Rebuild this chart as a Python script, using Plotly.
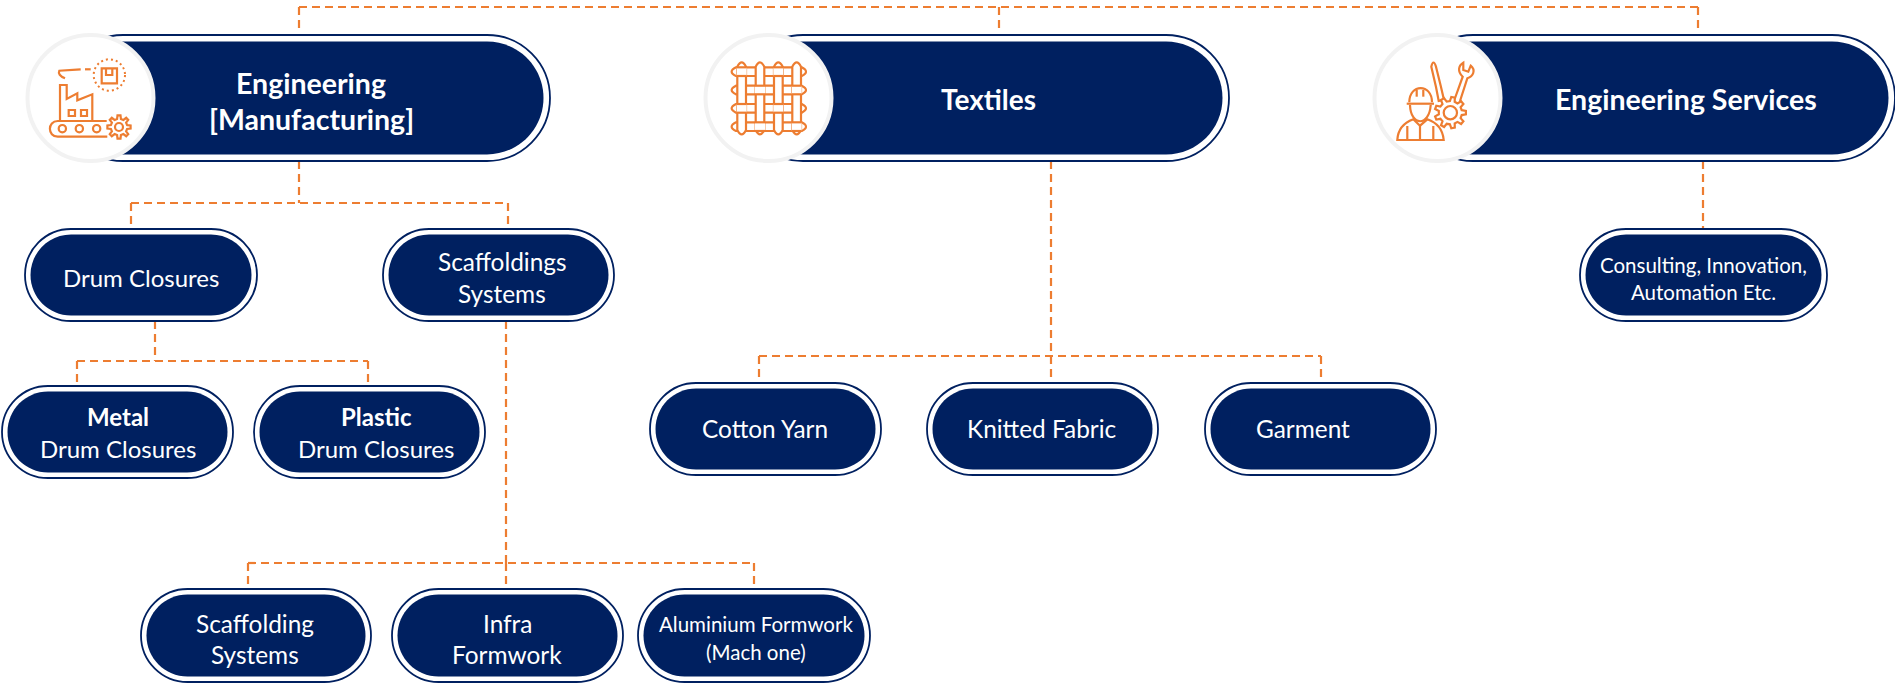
import math
import plotly.graph_objects as go

# ---------- content ----------
top_labels = [["<b>Engineering</b>", "<b>[Manufacturing]</b>"], ["<b>Textiles</b>"], ["<b>Engineering Services</b>"]]
level2_labels = [["Drum Closures"], ["Scaffoldings", "Systems"], ["Consulting, Innovation,", "Automation Etc."]]
drum_labels = [["<b>Metal</b>", "Drum Closures"], ["<b>Plastic</b>", "Drum Closures"]]
textile_labels = [["Cotton Yarn"], ["Knitted Fabric"], ["Garment"]]
scaffold_labels = [["Scaffolding", "Systems"], ["Infra", "Formwork"], ["Aluminium Formwork", "(Mach one)"]]

# ---------- layout ----------
NAVY, ORANGE, RING = "#002060", "#ED7D31", "#F2F2F2"
FONT = "Lato"
W, H = 1895, 683

top_boxes = [(60, 550, 35, 161), (740, 1229, 35, 161), (1410, 1895, 35, 161)]
circles = [(90.5, 98), (768.5, 98), (1437.5, 98)]
top_text = [(311, [83, 119], 28.5), (988, [99], 28), (1686, [99], 28.5)]

small_boxes = [
    ((25, 257, 229, 321), level2_labels[0], 141, [277], 24),
    ((383, 614, 229, 321), level2_labels[1], 502, [261, 293], 24.4),
    ((1580, 1827, 229, 321), level2_labels[2], 1703, [265, 292], 20.5),
    ((2, 233, 386, 478), drum_labels[0], 118, [416, 448], 24),
    ((254, 485, 386, 478), drum_labels[1], 376, [416, 448], 24),
    ((650, 881, 383, 475), textile_labels[0], 765, [428], 24.4),
    ((927, 1158, 383, 475), textile_labels[1], 1042, [428], 24.4),
    ((1205, 1436, 383, 475), textile_labels[2], 1303, [428], 24.4),
    ((141, 371, 589, 682), scaffold_labels[0], 255, [623, 654], 24.4),
    ((392, 623, 589, 682), scaffold_labels[1], 507, [623, 654], 24.4),
    ((638, 870, 589, 682), scaffold_labels[2], 756, [624, 652], 20.5),
]

connectors = [
    ([299, 1698], [7, 7]), ([299, 299], [7, 31]), ([999, 999], [7, 31]), ([1698, 1698], [7, 31]),
    ([299, 299], [161, 203]), ([131, 508], [203, 203]), ([131, 131], [203, 226]), ([508, 508], [203, 226]),
    ([155, 155], [321, 361]), ([77, 368], [361, 361]), ([77, 77], [361, 383]), ([368, 368], [361, 383]),
    ([506, 506], [321, 563]), ([248, 754], [563, 563]), ([248, 248], [563, 587]), ([506, 506], [563, 587]), ([754, 754], [563, 587]),
    ([1051, 1051], [161, 356]), ([759, 1321], [356, 356]), ([759, 759], [356, 380]), ([1051, 1051], [356, 380]), ([1321, 1321], [356, 380]),
    ([1703, 1703], [161, 229]),
]

shapes, annotations = [], []


def pill_path(x0, x1, y0, y1):
    r = (y1 - y0) / 2
    k = 0.5523 * r
    return (f"M{x0+r},{y0} L{x1-r},{y0} C{x1-r+k},{y0} {x1},{y0+r-k} {x1},{y0+r} "
            f"C{x1},{y0+r+k} {x1-r+k},{y1} {x1-r},{y1} L{x0+r},{y1} "
            f"C{x0+r-k},{y1} {x0},{y0+r+k} {x0},{y0+r} C{x0},{y0+r-k} {x0+r-k},{y0} {x0+r},{y0} Z")


def add_path(path, fill=None, color=None, width=0, dash=None):
    shapes.append(dict(type="path", path=path, xref="x", yref="y", layer="above",
                       fillcolor=fill or "rgba(0,0,0,0)",
                       line=dict(color=color or "rgba(0,0,0,0)", width=width, dash=dash)))


def pill(box, gap):
    x0, x1, y0, y1 = box
    add_path(pill_path(x0, x1, y0, y1), "white", NAVY, 1.8)
    add_path(pill_path(x0 + gap, x1 - gap, y0 + gap, y1 - gap), NAVY)


def text(x, y, s, size):
    annotations.append(dict(x=x, y=y, xref="x", yref="y", text=s, showarrow=False, xanchor="center", yanchor="middle",
                            font=dict(family=FONT, size=size, color="white")))


for box in top_boxes:
    pill(box, 6.5)
for box, lines, tx, tys, size in small_boxes:
    pill(box, 5.5)
    for s, ty in zip(lines, tys):
        text(tx, ty, s, size)
for (tx, tys, size), lines in zip(top_text, top_labels):
    for s, ty in zip(lines, tys):
        text(tx, ty, s, size)
for cx, cy in circles:
    shapes.append(dict(type="circle", xref="x", yref="y", layer="above", x0=cx - 63, x1=cx + 63, y0=cy - 63, y1=cy + 63,
                       fillcolor="white", line=dict(color=RING, width=4)))


# ---------- icons (drawn from zoom-space coordinates) ----------
def icon(ox, oy):
    return lambda x, y: f"{ox + x / 3:.1f},{oy + y / 3:.1f}"


def poly(t, pts, closed=False):
    return "M" + " L".join(t(*p) for p in pts) + (" Z" if closed else "")


def stroke(path, width=2.2):
    add_path(path, None, ORANGE, width)


def circ_path(t, cx, cy, r):
    k = 0.5523 * r
    return (f"M{t(cx + r, cy)} C{t(cx + r, cy + k)} {t(cx + k, cy + r)} {t(cx, cy + r)} "
            f"C{t(cx - k, cy + r)} {t(cx - r, cy + k)} {t(cx - r, cy)} "
            f"C{t(cx - r, cy - k)} {t(cx - k, cy - r)} {t(cx, cy - r)} "
            f"C{t(cx + k, cy - r)} {t(cx + r, cy - k)} {t(cx + r, cy)} Z")


def gear(t, cx, cy, ro, ri, teeth=8):
    pts = []
    for i in range(teeth):
        a = 2 * math.pi * i / teeth
        st = 2 * math.pi / teeth
        for da, r in ((-0.30, ri), (-0.16, ro), (0.16, ro), (0.30, ri)):
            pts.append((cx + r * math.cos(a + da * st), cy + r * math.sin(a + da * st)))
    return poly(t, pts, True)


# factory
t = icon(20, 25)
stroke(f"M{t(135, 160)} Q{t(112, 150)} {t(118, 137)} L{t(182, 133)}")
stroke(poly(t, [(195, 133), (212, 133)]))
add_path(circ_path(t, 268, 150, 47), None, ORANGE, 2, "2px,3px")
stroke(poly(t, [(245, 130), (291, 130), (291, 175), (245, 175)], True))
stroke(poly(t, [(258, 130), (258, 150), (277, 150), (277, 130)]))
stroke(poly(t, [(120, 288), (120, 180), (140, 180), (140, 222), (172, 205), (172, 226), (217, 208), (217, 288)]))
stroke(poly(t, [(146, 255), (165, 255), (165, 273), (146, 273)], True))
stroke(poly(t, [(183, 255), (201, 255), (201, 273), (183, 273)], True))
stroke(f"M{t(260, 288)} L{t(113, 288)} C{t(82, 288)} {t(82, 335)} {t(113, 335)} L{t(262, 335)}")
for cx in (127, 178, 230):
    stroke(circ_path(t, cx, 311, 11))
stroke(gear(t, 297, 306, 35, 25))
stroke(circ_path(t, 297, 306, 12))

# weave
t = icon(700, 25)
xs, ys = [125, 180, 235, 290], [140, 195, 250, 305]
half = 13


def capsule(x0, y0, x1, y1):
    if y0 == y1:
        return (f"M{t(x0, y0 - half)} L{t(x1, y0 - half)} Q{t(x1 + 2 * half, y0)} {t(x1, y0 + half)} "
                f"L{t(x0, y0 + half)} Q{t(x0 - 2 * half, y0)} {t(x0, y0 - half)} Z")
    return (f"M{t(x0 - half, y0)} L{t(x0 - half, y1)} Q{t(x0, y1 + 2 * half)} {t(x0 + half, y1)} "
            f"L{t(x0 + half, y0)} Q{t(x0, y0 - 2 * half)} {t(x0 - half, y0)} Z")


for y in ys:
    add_path(capsule(108, y, 305, y), "white", ORANGE, 2.2)
for x in xs:
    add_path(capsule(x, 125, x, 315), "white", ORANGE, 2.2)
for i, x in enumerate(xs):
    for j, y in enumerate(ys):
        if (i + j) % 2 == 0:
            add_path(poly(t, [(x - half - 2, y - half + 1), (x + half + 2, y - half + 1),
                              (x + half + 2, y + half - 1), (x - half - 2, y + half - 1)], True), "white")
            stroke(poly(t, [(x - half - 2, y - half), (x + half + 2, y - half)]))
            stroke(poly(t, [(x - half - 2, y + half), (x + half + 2, y + half)]))

# worker
t = icon(1370, 25)
stroke(f"M{t(118, 232)} C{t(118, 175)} {t(186, 175)} {t(186, 232)}")
stroke(poly(t, [(110, 236), (192, 236)]))
stroke(f"M{t(120, 240)} C{t(122, 305)} {t(178, 305)} {t(182, 240)}")
stroke(poly(t, [(140, 195), (140, 215)]))
stroke(poly(t, [(160, 195), (160, 215)]))
stroke(f"M{t(82, 345)} C{t(84, 310)} {t(105, 292)} {t(130, 283)} L{t(150, 302)} L{t(172, 283)} "
       f"C{t(198, 292)} {t(218, 310)} {t(221, 345)} Z")
stroke(poly(t, [(112, 345), (112, 303)]))
stroke(poly(t, [(150, 345), (150, 302)]))
stroke(poly(t, [(190, 345), (190, 303)]))
stroke(f"M{t(184, 125)} Q{t(190, 100)} {t(198, 125)} L{t(212, 182)} L{t(222, 225)} L{t(206, 228)} L{t(198, 186)} Z")
stroke(f"M{t(254, 222)} L{t(278, 155)} C{t(262, 140)} {t(265, 122)} {t(280, 113)} L{t(280, 135)} L{t(295, 140)} "
       f"L{t(302, 122)} C{t(318, 135)} {t(310, 155)} {t(292, 160)} L{t(270, 228)}")
add_path(gear(t, 241, 263, 47, 35, 9), "white", ORANGE, 2.2)
stroke(circ_path(t, 241, 263, 20))

# ---------- figure ----------
fig = go.Figure()
for xs_, ys_ in connectors:
    fig.add_trace(go.Scatter(x=xs_, y=ys_, mode="lines", hoverinfo="skip", showlegend=False,
                             line=dict(color=ORANGE, width=2.2, dash="8px,5px")))
fig.update_layout(
    width=W, height=H, margin=dict(l=0, r=0, t=0, b=0),
    paper_bgcolor="white", plot_bgcolor="white", showlegend=False,
    xaxis=dict(range=[0, W], visible=False, fixedrange=True),
    yaxis=dict(range=[H, 0], visible=False, fixedrange=True),
    shapes=shapes, annotations=annotations,
)
fig.write_html("out.html", config={"displayModeBar": False},
               post_script="document.body.style.margin='0';document.body.style.overflow='hidden';")
